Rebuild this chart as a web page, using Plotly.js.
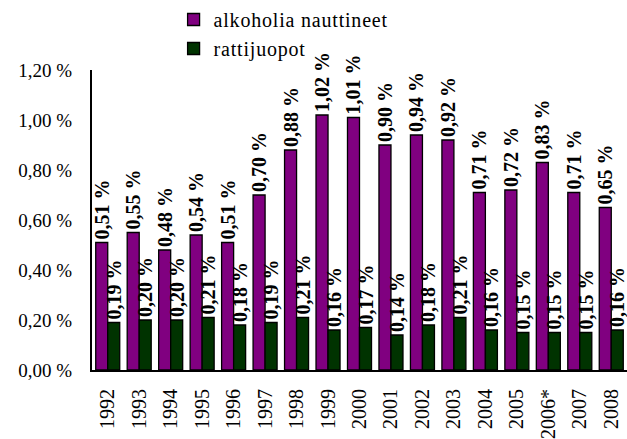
<!DOCTYPE html>
<html>
<head>
<meta charset="utf-8">
<script src="https://cdn.plot.ly/plotly-3.0.1.min.js"></script>
<style>html,body{margin:0;padding:0;background:#fff;}#chart{width:627px;height:439px;}
.legendtext{letter-spacing:0.8px;}</style>
</head>
<body>
<div id="chart"></div>
<script>
var years = ['1992','1993','1994','1995','1996','1997','1998','1999','2000','2001','2002','2003','2004','2005','2006*','2007','2008'];
var alkoholia = [0.51,0.55,0.48,0.54,0.51,0.70,0.88,1.02,1.01,0.90,0.94,0.92,0.71,0.72,0.83,0.71,0.65];
var ratti = [0.19,0.20,0.20,0.21,0.18,0.19,0.21,0.16,0.17,0.14,0.18,0.21,0.16,0.15,0.15,0.15,0.16];
var yTickVals = [0,0.2,0.4,0.6,0.8,1.0,1.2];
var seriesNames = ['alkoholia nauttineet','rattijuopot'];

function fmt(v){ return v.toFixed(2).replace('.', ',') + ' %'; }
var FONT = 'Liberation Serif';

var labelFont = {family: FONT, size: 20, color: '#000', weight: 'bold'};

var traces = [
  {type:'bar', name: seriesNames[0], x: years, y: alkoholia,
   marker:{color:'#800080', line:{color:'#000', width:1.3}},
   text: alkoholia.map(fmt), textposition:'outside', textangle:-90,
   constraintext:'none', cliponaxis:false, textfont: labelFont},
  {type:'bar', name: seriesNames[1], x: years, y: ratti,
   marker:{color:'#003300', line:{color:'#000', width:1.3}},
   text: ratti.map(fmt), textposition:'outside', textangle:-90,
   constraintext:'none', cliponaxis:false, textfont: labelFont}
];

var layout = {
  width: 627, height: 439,
  margin: {l:92, r:0, t:70, b:69, pad:0},
  paper_bgcolor:'#fff', plot_bgcolor:'#fff',
  barmode:'group', bargap:0.237, bargroupgap:0,
  font:{family: FONT, color:'#000'},
  showlegend:true,
  legend:{x:0.1525, xanchor:'left', y:1.235, yanchor:'top', orientation:'v',
          font:{family: FONT, size:20, color:'#000'}, bgcolor:'rgba(0,0,0,0)', tracegroupgap:0},
  xaxis:{type:'category', range:[-0.5,16.5], tickangle:-90, showline:true, linecolor:'#000', linewidth:2,
         ticks:'', showgrid:false, zeroline:false, tickfont:{family:FONT, size:20, color:'#000'}, ticklabelstandoff:9},
  yaxis:{range:[0,1.2], tickvals:yTickVals, ticktext:yTickVals.map(fmt), showline:true, linecolor:'#000', linewidth:2,
         ticks:'', showgrid:false, zeroline:false, tickfont:{family:FONT, size:19, color:'#000'}, ticklabelstandoff:14}
};

Plotly.newPlot('chart', traces, layout, {displayModeBar:false, staticPlot:true});
</script>
</body>
</html>
